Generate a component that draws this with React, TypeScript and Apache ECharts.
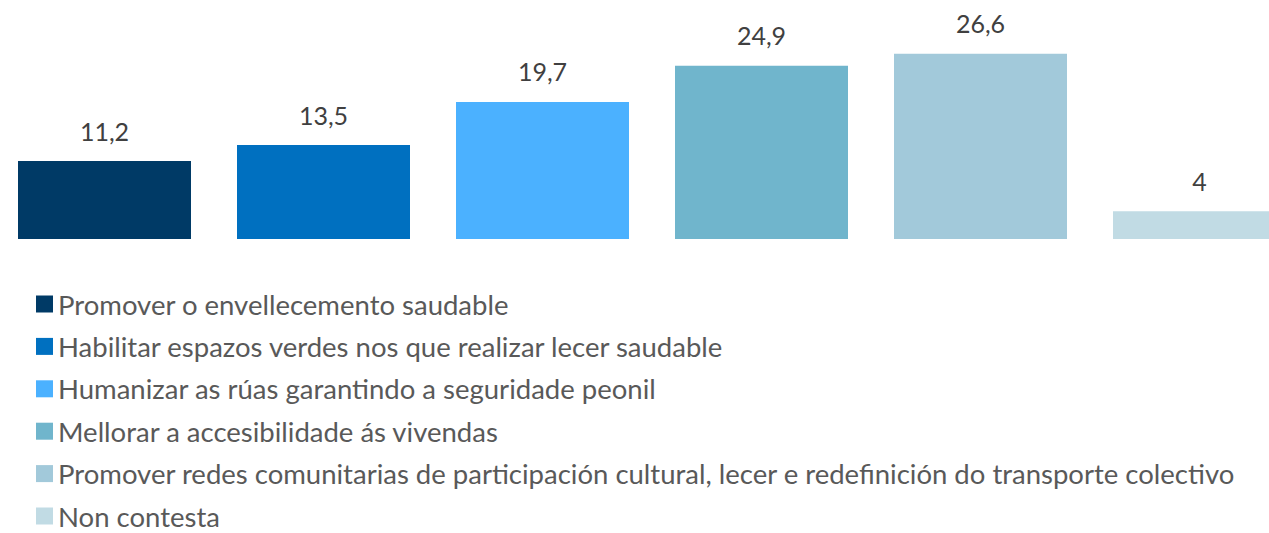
import React, { useEffect, useRef } from "react";
import * as echarts from "echarts";

const categories = [
  "Promover o envellecemento saudable",
  "Habilitar espazos verdes nos que realizar lecer saudable",
  "Humanizar as rúas garantindo a seguridade peonil",
  "Mellorar a accesibilidade ás vivendas",
  "Promover redes comunitarias de participación cultural, lecer e redefinición do transporte colectivo",
  "Non contesta",
];
const values = [11.2, 13.5, 19.7, 24.9, 26.6, 4];
const colors = ["#003A66", "#0070C0", "#4BB1FF", "#70B5CC", "#A2C9DA", "#C1DBE4"];

const FONT = "Lato";

export default function App() {
  const ref = useRef<HTMLDivElement>(null);
  useEffect(() => {
    if (!ref.current) return;
    const chart = echarts.init(ref.current, undefined, { renderer: "svg" });
    const series = categories.map((name, i) => ({
      name,
      type: "bar",
      stack: "all",
      barWidth: 173,
      itemStyle: { color: colors[i] },
      label: {
        show: true,
        position: "top",
        distance: 18,
        color: "#404040",
        fontSize: 25,
        fontFamily: FONT,
        formatter: (p: any) => String(p.value).replace(".", ","),
      },
      data: categories.map((_, j) => (j === i ? values[i] : "-")),
    }));
    const legends = categories.map((name, i) => ({
      orient: "vertical",
      left: 36,
      top: 290 + i * 42.4,
      padding: 0,
      itemWidth: 17,
      itemHeight: 17,
      icon: "rect",
      textStyle: { color: "#595959", fontSize: 27.5, fontFamily: FONT },
      data: [name],
    }));
    chart.setOption({
      animation: false,
      grid: { left: -5, width: 1314, top: 30.2, bottom: 294, outerBoundsMode: "none" },
      xAxis: {
        type: "category",
        data: categories,
        show: false,
      },
      yAxis: { type: "value", min: 0, max: 30, show: false, splitLine: { show: false } },
      legend: legends,
      series,
    });
    return () => chart.dispose();
  }, []);
  return (
    <div
      ref={ref}
      style={{ position: "absolute", left: 0, top: 0, width: 1269, height: 533 }}
    />
  );
}
